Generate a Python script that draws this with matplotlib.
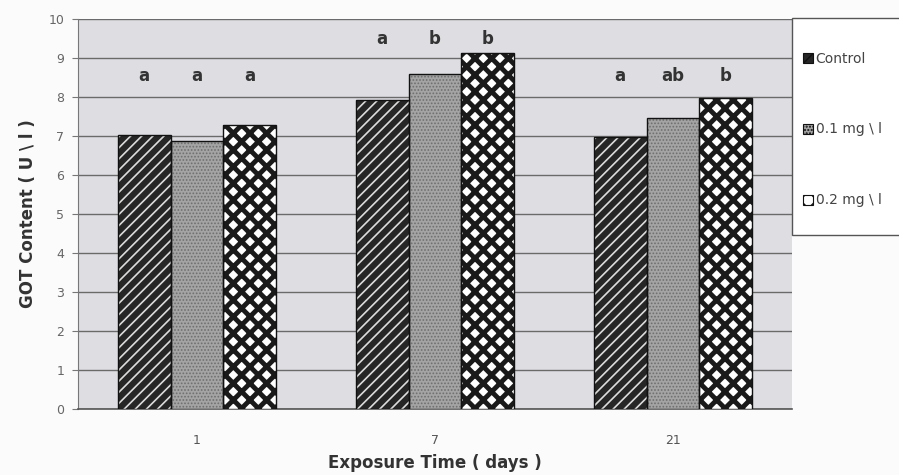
import numpy as np
import matplotlib.pyplot as plt
from matplotlib.patches import Rectangle

#%% data
days = ['1', '7', '21']
series = ['Control', '0.1 mg \\ l', '0.2 mg \\ l']
control = [7.02, 7.92, 6.97]
dose01 = [6.88, 8.60, 7.46]
dose02 = [7.28, 9.14, 7.98]
letters = [['a', 'a', 'a'], ['a', 'b', 'b'], ['a', 'ab', 'b']]
letter_y = [8.55, 9.5, 8.55]

#%% styles
faces = ['#262626', '#a4a4a4', 'white']
hatches = ['///', '.....', 'xx']
hcolors = ['#dcdcdc', '#6e6e6e', '#1a1a1a']
hwidths = [1.2, 0.8, 3.5]

fig = plt.figure(figsize=(8.99, 4.75), dpi=100)
fig.patch.set_facecolor('#fbfbfb')
ax = fig.add_axes([78/899, 1-409/475, (792-78)/899, (409-19)/475])
ax.set_facecolor('#dedde2')

x = np.arange(len(days))
w = 0.222
vals = [control, dose01, dose02]
for i in range(3):
    with plt.rc_context({'hatch.linewidth': hwidths[i], 'hatch.color': hcolors[i]}):
        ax.bar(x + (i-1)*w, vals[i], w, color=faces[i], hatch=hatches[i],
               edgecolor=hcolors[i], linewidth=0, zorder=3, label=series[i])
    ax.bar(x + (i-1)*w, vals[i], w, fill=False, edgecolor='#111111',
           linewidth=1.0, zorder=4)

for g in range(3):
    for i in range(3):
        ax.text(x[g] + (i-1)*w, letter_y[g], letters[g][i], ha='center', va='center',
                fontsize=12, fontweight='bold', color='#333333')

ax.set_xlim(-0.5, 2.5)
ax.set_ylim(0, 10)
ax.set_yticks(range(0, 11))
ax.set_xticks(x)
ax.set_xticklabels(days)
ax.yaxis.grid(True, color='#6a6a6a', linewidth=1.0, zorder=1)
ax.set_axisbelow(True)
for s in ['top', 'right']:
    ax.spines[s].set_visible(False)
ax.spines['left'].set_color('#777777')
ax.spines['bottom'].set_color('#555555')
ax.spines['bottom'].set_linewidth(1.2)
ax.tick_params(axis='y', length=4, color='#777777', labelsize=9, labelcolor='#666666', pad=6)
ax.tick_params(axis='x', length=0, labelsize=9, labelcolor='#555555', pad=18)
ax.set_ylabel('GOT Content ( U \\ l )', fontsize=12, fontweight='bold', color='#333333', labelpad=8)
ax.set_xlabel('Exposure Time ( days )', fontsize=12, fontweight='bold', color='#333333', labelpad=5)

# legend box sticking out to the right
fig.patches.append(Rectangle((792/899, 1-235/475), 0.2, (235-18)/475,
                             transform=fig.transFigure, facecolor='white',
                             edgecolor='#555555', linewidth=1.0, zorder=0))
leg = fig.legend(loc='upper left', bbox_to_anchor=(797/899, 1-46/475), frameon=False,
                 fontsize=10, labelspacing=4.1, handlelength=0.75, handleheight=0.75,
                 handletextpad=0.2, borderaxespad=0)
for t in leg.get_texts():
    t.set_color('#444444')
for h in leg.legend_handles:
    h.set_edgecolor('#111111')
    h.set_linewidth(0.8)

plt.savefig('out.png', dpi=100, facecolor=fig.get_facecolor())
